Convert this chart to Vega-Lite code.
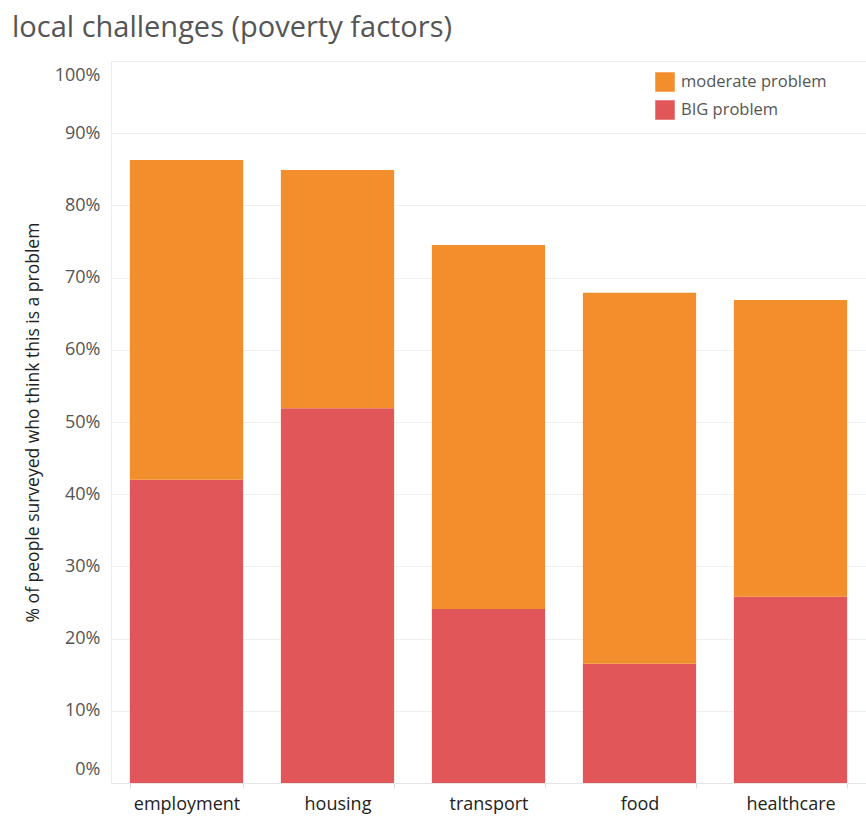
{
  "$schema": "https://vega.github.io/schema/vega-lite/v6.json",
  "width": 755,
  "height": 722,
  "autosize": {"type": "none"},
  "padding": {"left": 111, "top": 61, "right": 0, "bottom": 41},
  "background": "white",
  "title": {
    "text": "local challenges (poverty factors)",
    "anchor": "start",
    "frame": "group",
    "dx": -99,
    "dy": 26,
    "offset": 21,
    "baseline": "alphabetic",
    "font": "Open Sans",
    "fontSize": 29,
    "fontWeight": "normal",
    "color": "#555555"
  },
  "data": {
    "values": [
      {"factor": "employment", "severity": "BIG problem", "rank": 1, "value": 0.420},
      {"factor": "employment", "severity": "moderate problem", "rank": 2, "value": 0.443},
      {"factor": "housing", "severity": "BIG problem", "rank": 1, "value": 0.519},
      {"factor": "housing", "severity": "moderate problem", "rank": 2, "value": 0.330},
      {"factor": "transport", "severity": "BIG problem", "rank": 1, "value": 0.241},
      {"factor": "transport", "severity": "moderate problem", "rank": 2, "value": 0.504},
      {"factor": "food", "severity": "BIG problem", "rank": 1, "value": 0.165},
      {"factor": "food", "severity": "moderate problem", "rank": 2, "value": 0.514},
      {"factor": "healthcare", "severity": "BIG problem", "rank": 1, "value": 0.258},
      {"factor": "healthcare", "severity": "moderate problem", "rank": 2, "value": 0.411}
    ]
  },
  "mark": {"type": "bar"},
  "encoding": {
    "x": {
      "field": "factor",
      "type": "nominal",
      "sort": ["employment", "housing", "transport", "food", "healthcare"],
      "scale": {"paddingInner": 0.25, "paddingOuter": 0.125},
      "axis": {
        "title": null,
        "labelAngle": 0,
        "labelFont": "Open Sans",
        "labelFontSize": 18,
        "labelColor": "#222222",
        "labelPadding": 7,
        "domainColor": "#e6e6e6",
        "tickColor": "#dddddd",
        "tickSize": 5,
        "tickBand": "extent",
        "grid": false
      }
    },
    "y": {
      "field": "value",
      "type": "quantitative",
      "stack": "zero",
      "scale": {"domain": [0, 1], "nice": false},
      "axis": {
        "title": "% of people surveyed who think this is a problem",
        "titleFont": "Open Sans",
        "titleFontSize": 17.5,
        "titleFontWeight": "normal",
        "titleColor": "#222222",
        "titlePadding": 12,
        "format": ".0%",
        "values": [0, 0.1, 0.2, 0.3, 0.4, 0.5, 0.6, 0.7, 0.8, 0.9, 1],
        "labelFont": "Open Sans",
        "labelFontSize": 18,
        "labelColor": "#555555",
        "labelPadding": 11,
        "labelFlush": true,
        "labelFlushOffset": -5,
        "ticks": false,
        "domainColor": "#ececec",
        "gridColor": "#efefef",
        "gridWidth": 1
      }
    },
    "color": {
      "field": "severity",
      "type": "nominal",
      "scale": {"domain": ["moderate problem", "BIG problem"], "range": ["#F28E2B", "#E15759"]},
      "legend": {
        "title": null,
        "orient": "none",
        "legendX": 544,
        "legendY": 11,
        "symbolType": "square",
        "symbolSize": 380,
        "symbolStrokeWidth": 0,
        "symbolOpacity": 1,
        "labelFont": "Open Sans",
        "labelFontSize": 16.5,
        "labelColor": "#555555",
        "labelOffset": 6,
        "rowPadding": 8
      }
    },
    "order": {"field": "rank", "type": "quantitative"}
  },
  "config": {"view": {"stroke": null}}
}
